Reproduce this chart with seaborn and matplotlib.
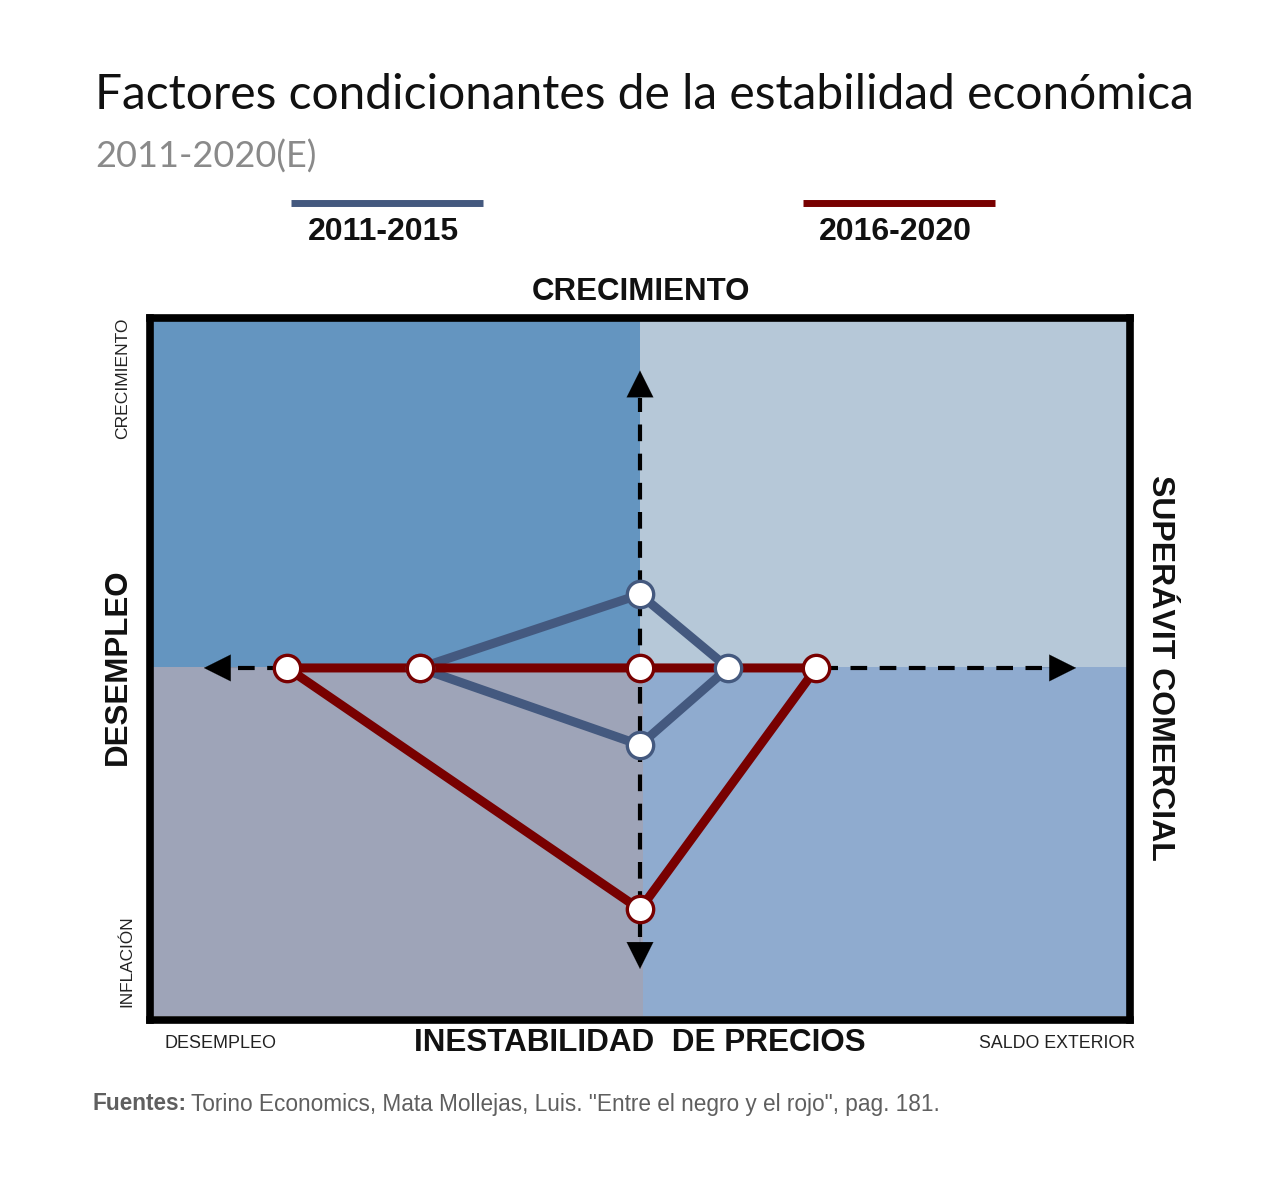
import pandas as pd
import matplotlib.pyplot as plt
import seaborn as sns

# Data: magic square points (x: desempleo <-> saldo exterior, y: inflacion <-> crecimiento)
periods = ['2011-2015', '2016-2020']
blue_x = [-4.5, 0.0, 1.8, 0.0, -4.5]
blue_y = [0.0, 2.1, 0.0, -2.2, 0.0]
red_x = [-7.2, -4.5, 0.0, 3.6, 0.0, -7.2]
red_y = [0.0, 0.0, 0.0, 0.0, -6.9, 0.0]

blue_col = '#44597f'
red_col = '#780000'

sns.set_theme(style='white')
plt.rcParams['font.family'] = ['Liberation Sans', 'DejaVu Sans']

fig = plt.figure(figsize=(12.8, 11.83), dpi=100)
ax = fig.add_axes([150 / 1280, 163 / 1183, 980 / 1280, 702 / 1183])
ax.set_xlim(-10, 10)
ax.set_ylim(-10.06, 10)

# quadrant backgrounds
ax.axvspan(-10, 0, ymin=0.503, ymax=1, color='#6495c0', lw=0, zorder=0)
ax.axvspan(0, 10, ymin=0.503, ymax=1, color='#b6c8d8', lw=0, zorder=0)
ax.axvspan(-10, 0.06, ymin=0.006, ymax=0.503, color='#9ea4b8', lw=0, zorder=0)
ax.axvspan(0.06, 10, ymin=0.006, ymax=0.503, color='#8fabcf', lw=0, zorder=0)

# dashed axes with arrowheads
ax.plot([-8.2, 8.2], [0, 0], ls=(0, (4, 3)), lw=3, color='black', zorder=1)
ax.plot([0, 0], [-7.7, 7.7], ls=(0, (4, 3)), lw=3, color='black', zorder=1)
for tip, base in [((-8.9, 0), (-8.0, 0)), ((8.9, 0), (8.0, 0)),
                  ((0, 8.5), (0, 7.4)), ((0, -8.6), (0, -7.5))]:
    ax.annotate('', xy=tip, xytext=base,
                arrowprops=dict(arrowstyle='-|>,head_length=1.6,head_width=0.8',
                                color='black', lw=0.1, shrinkA=0, shrinkB=0),
                zorder=2)

blue_df = pd.DataFrame({'x': blue_x, 'y': blue_y})
red_df = pd.DataFrame({'x': red_x, 'y': red_y})

sns.lineplot(data=blue_df, x='x', y='y', sort=False, estimator=None,
             color=blue_col, lw=6.5, ax=ax, zorder=3)
sns.lineplot(data=red_df, x='x', y='y', sort=False, estimator=None,
             color=red_col, lw=6.5, ax=ax, zorder=4)
sns.scatterplot(data=blue_df.iloc[:-1], x='x', y='y', s=360, color='white',
                edgecolor=blue_col, linewidth=2.4, ax=ax, zorder=5)
sns.scatterplot(data=red_df.iloc[:-1], x='x', y='y', s=360, color='white',
                edgecolor=red_col, linewidth=2.4, ax=ax, zorder=6)

ax.set_xlabel('')
ax.set_ylabel('')
ax.set_xticks([])
ax.set_yticks([])
for sp in ax.spines.values():
    sp.set_visible(True)
    sp.set_color('black')
    sp.set_linewidth(5.5)

# titles
fig.text(95 / 1280, 1 - 95 / 1183, 'Factores condicionantes de la estabilidad económica',
         fontsize=34.5, family='Lato', color='#111111', va='center', ha='left')
fig.text(95 / 1280, 1 - 157 / 1183, '2011-2020(E)', fontsize=26, family='Lato',
         color='#8a8a8a', va='center', ha='left')

# legend
for cx, col, lab in [(387, blue_col, periods[0]), (899, red_col, periods[1])]:
    fig.add_artist(plt.Line2D([(cx - 96) / 1280, (cx + 96) / 1280],
                              [1 - 203 / 1183] * 2, color=col, lw=5,
                              solid_capstyle='butt', transform=fig.transFigure))
    fig.text((cx - 4) / 1280, 1 - 232 / 1183, lab, fontsize=23, weight='bold',
             ha='center', va='center', color='#111111')

# axis captions
fig.text(641 / 1280, 1 - 292 / 1183, 'CRECIMIENTO', fontsize=22.5, weight='bold',
         ha='center', va='center', color='#111111')
fig.text(640 / 1280, 1 - 1043 / 1183, 'INESTABILIDAD  DE PRECIOS', fontsize=22.6,
         weight='bold', ha='center', va='center', color='#111111')
fig.text(118 / 1280, 1 - 667 / 1183, 'DESEMPLEO', fontsize=22.5, weight='bold',
         rotation=90, ha='center', va='center', color='#111111')
fig.text(1160 / 1280, 1 - 668 / 1183, 'SUPERÁVIT COMERCIAL', fontsize=23,
         weight='bold', rotation=-90, ha='center', va='center', color='#111111')

fig.text(123 / 1280, 1 - 378 / 1183, 'CRECIMIENTO', fontsize=12.6, rotation=90,
         ha='center', va='center', color='#222222')
fig.text(127 / 1280, 1 - 961 / 1183, 'INFLACIÓN', fontsize=12.4, rotation=90,
         ha='center', va='center', color='#222222')
fig.text(165 / 1280, 1 - 1043 / 1183, 'DESEMPLEO', fontsize=13,
         ha='left', va='center', color='#222222')
fig.text(1135 / 1280, 1 - 1043 / 1183, 'SALDO EXTERIOR', fontsize=12.8,
         ha='right', va='center', color='#222222')

# source
src = fig.text(92 / 1280, 1 - 1104 / 1183, 'Fuentes:', fontsize=16.3, weight='bold',
               ha='left', va='center', color='#5f5f5f')
fig.canvas.draw()
bb = src.get_window_extent()
fig.text(bb.x1 / 1280 + 5 / 1280, 1 - 1104 / 1183,
         'Torino Economics, Mata Mollejas, Luis. "Entre el negro y el rojo", pag. 181.',
         fontsize=16.3, ha='left', va='center', color='#5f5f5f')

fig.savefig('out.png', dpi=100, facecolor='white')
